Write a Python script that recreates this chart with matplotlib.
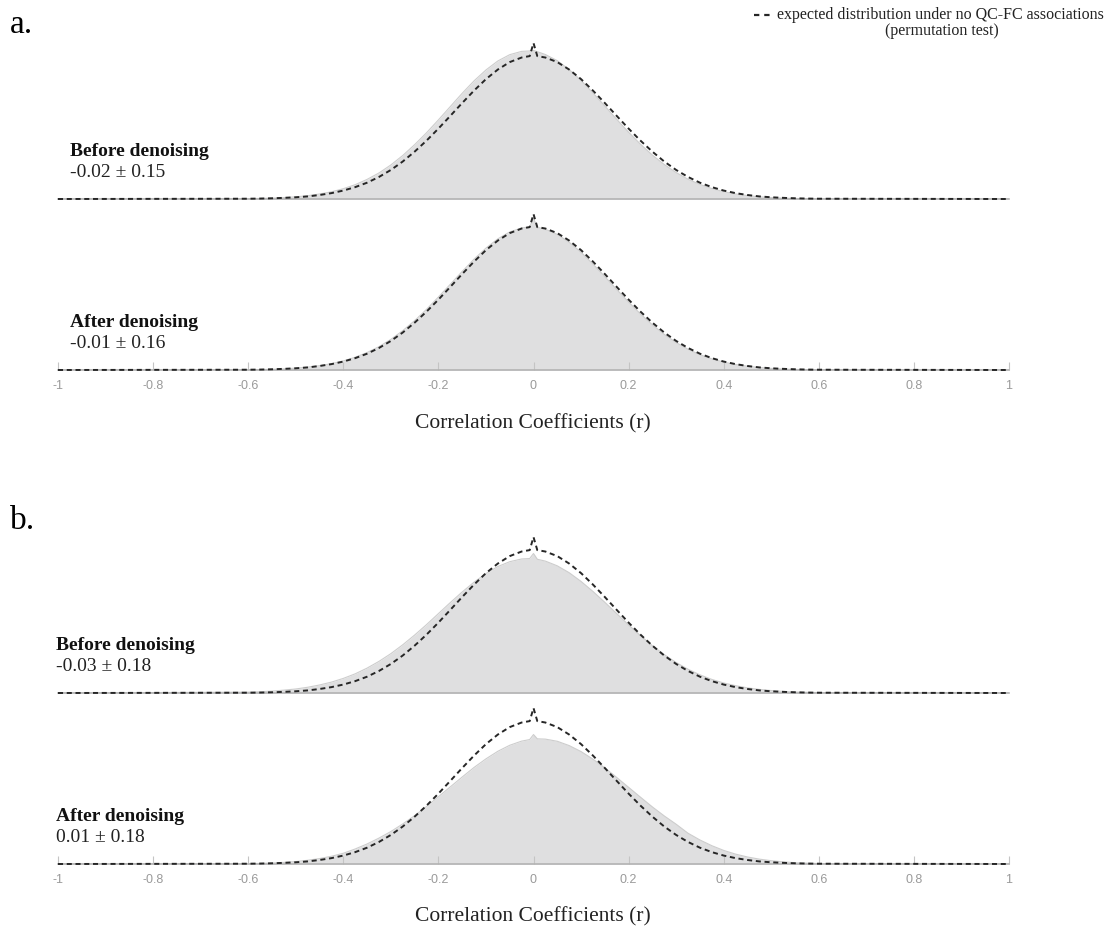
import matplotlib
matplotlib.use("Agg")
import matplotlib.pyplot as plt
from matplotlib.lines import Line2D

# correlation grid (r) shared by all curves
r = [-1.0, -0.6, -0.575, -0.55, -0.525, -0.5, -0.475, -0.45, -0.425, -0.4, -0.375,
     -0.35, -0.325, -0.3, -0.275, -0.25, -0.225, -0.2, -0.175, -0.15, -0.125, -0.1,
     -0.075, -0.05, -0.025, -0.008, 0.0, 0.008, 0.025, 0.05, 0.075, 0.1, 0.125, 0.15,
     0.175, 0.2, 0.225, 0.25, 0.275, 0.3, 0.325, 0.35, 0.375, 0.4, 0.425, 0.45, 0.475,
     0.5, 0.525, 0.55, 0.575, 0.6, 1.0]

# permutation (null) distribution, same in every row
null = [0, 0.002, 0.003, 0.005, 0.008, 0.012, 0.018, 0.028, 0.041, 0.059, 0.083,
        0.114, 0.154, 0.203, 0.262, 0.331, 0.408, 0.492, 0.581, 0.671, 0.758, 0.838,
        0.905, 0.957, 0.989, 0.999, 1.09, 0.999, 0.989, 0.957, 0.905, 0.838, 0.758, 0.671,
        0.581, 0.492, 0.408, 0.331, 0.262, 0.203, 0.154, 0.114, 0.083, 0.059, 0.041, 0.028,
        0.018, 0.012, 0.008, 0.005, 0.003, 0.002, 0]

# observed QC-FC distributions
a_before = [0, 0.002, 0.004, 0.006, 0.010, 0.015, 0.023, 0.035, 0.050, 0.072, 0.100,
            0.137, 0.182, 0.238, 0.304, 0.380, 0.463, 0.553, 0.646, 0.739, 0.826, 0.902,
            0.965, 1.009, 1.032, 1.035, 1.038, 1.030, 1.010, 0.967, 0.905, 0.829, 0.742, 0.650,
            0.557, 0.467, 0.383, 0.307, 0.241, 0.185, 0.138, 0.102, 0.073, 0.051, 0.035, 0.024,
            0.015, 0.010, 0.006, 0.004, 0.002, 0.001, 0]
a_after = [0, 0.002, 0.003, 0.005, 0.008, 0.013, 0.020, 0.030, 0.044, 0.063, 0.089,
           0.122, 0.163, 0.214, 0.275, 0.345, 0.424, 0.510, 0.599, 0.689, 0.775, 0.852,
           0.917, 0.965, 0.993, 1.0, 1.06, 0.997, 0.984, 0.948, 0.893, 0.823, 0.741, 0.653,
           0.563, 0.475, 0.392, 0.316, 0.249, 0.192, 0.145, 0.107, 0.078, 0.055, 0.038, 0.026,
           0.017, 0.011, 0.007, 0.004, 0.003, 0.002, 0]
b_before = [0, 0.006, 0.009, 0.013, 0.020, 0.028, 0.040, 0.056, 0.076, 0.102, 0.134,
            0.174, 0.221, 0.275, 0.337, 0.405, 0.478, 0.555, 0.632, 0.706, 0.775, 0.835,
            0.884, 0.918, 0.937, 0.94, 0.975, 0.935, 0.922, 0.889, 0.841, 0.780, 0.710, 0.634,
            0.555, 0.476, 0.401, 0.331, 0.268, 0.213, 0.166, 0.127, 0.095, 0.070, 0.051, 0.036,
            0.025, 0.017, 0.011, 0.007, 0.005, 0.003, 0]
b_after = [0, 0.003, 0.004, 0.007, 0.011, 0.017, 0.026, 0.038, 0.054, 0.075, 0.105,
           0.140, 0.181, 0.227, 0.280, 0.338, 0.402, 0.470, 0.539, 0.608, 0.675, 0.735,
           0.788, 0.830, 0.859, 0.870, 0.905, 0.875, 0.873, 0.858, 0.828, 0.786, 0.733, 0.672,
           0.605, 0.536, 0.467, 0.399, 0.336, 0.278, 0.215, 0.168, 0.128, 0.095, 0.069, 0.049,
           0.034, 0.023, 0.015, 0.009, 0.006, 0.003, 0]

row_titles = ["Before denoising", "After denoising", "Before denoising", "After denoising"]
row_stats = ["-0.02 \u00b1 0.15", "-0.01 \u00b1 0.16", "-0.03 \u00b1 0.18", "0.01 \u00b1 0.18"]
panel_letters = ["a.", "b."]
tick_vals = [-1, -0.8, -0.6, -0.4, -0.2, 0, 0.2, 0.4, 0.6, 0.8, 1]
tick_labels = ["-1", "-0.8", "-0.6", "-0.4", "-0.2", "0", "0.2", "0.4", "0.6", "0.8", "1"]
xlabel = "Correlation Coefficients (r)"
legend_text = ["expected distribution under no QC-FC associations", "(permutation test)"]

W, H = 1109, 926
SERIF = "Liberation Serif"
SANS = "Liberation Sans"

fig = plt.figure(figsize=(W / 100, H / 100), dpi=100)

def fx(x):
    return x / W

def fy(y):
    return 1 - y / H

rows = [
    # baseline px, observed, show ticks, text x
    (199, a_before, False, 70),
    (370, a_after, True, 70),
    (693, b_before, False, 56),
    (864, b_after, True, 56),
]

for i, (base, obs, ticks, tx) in enumerate(rows):
    ax = fig.add_axes([fx(58), fy(base), fx(951), 164.5 / H])
    ax.set_xlim(-1, 1)
    ax.set_ylim(0, 1.15)
    ax.patch.set_alpha(0)
    ax.fill_between(r, 0, obs, color="#dfdfe0", lw=0, zorder=1)
    ax.plot(r, obs, color="#cdcdcd", lw=0.8, zorder=2)
    ax.plot(r, null, color="#262626", lw=1.4, dashes=(2.6, 1.9), zorder=4, clip_on=False)
    for s in ["top", "right", "left"]:
        ax.spines[s].set_visible(False)
    ax.spines["bottom"].set_color("#b3b3b3")
    ax.spines["bottom"].set_linewidth(1.2)
    ax.spines["bottom"].set_zorder(3)
    ax.set_yticks([])
    if ticks:
        ax.set_xticks(tick_vals)
        ax.set_xticklabels(tick_labels, fontfamily=SANS)
        ax.tick_params(axis="x", direction="in", length=6, width=0.8, color="#c4c4c4",
                       labelcolor="#9a9a9a", labelsize=9, pad=7)
    else:
        ax.set_xticks([])

    fig.text(fx(tx), fy(base - 43), row_titles[i], fontsize=14, fontweight="bold",
             family=SERIF, va="baseline", color="#111111")
    fig.text(fx(tx), fy(base - 22), row_stats[i], fontsize=14,
             family=SERIF, va="baseline", color="#222222")

# panel letters and x labels
fig.text(fx(10), fy(33), panel_letters[0], fontsize=24, family=SERIF, va="baseline")
fig.text(fx(10), fy(529), panel_letters[1], fontsize=24, family=SERIF, va="baseline")
fig.text(fx(533), fy(424), xlabel, fontsize=15.5, family=SERIF, ha="center", va="center",
         color="#222222")
fig.text(fx(533), fy(917), xlabel, fontsize=15.5, family=SERIF, ha="center", va="center",
         color="#222222")

# legend key for the null distribution
fig.add_artist(Line2D([fx(754), fx(771)], [fy(15), fy(15)], color="#262626", lw=1.6,
                      dashes=(2.4, 2.2)))
fig.text(fx(1104), fy(15), legend_text[0], fontsize=11.5, family=SERIF, ha="right",
         va="center", color="#222222")
fig.text(fx(942), fy(31), legend_text[1], fontsize=11.5, family=SERIF, ha="center",
         va="center", color="#222222")

fig.savefig("out.png", dpi=100)
